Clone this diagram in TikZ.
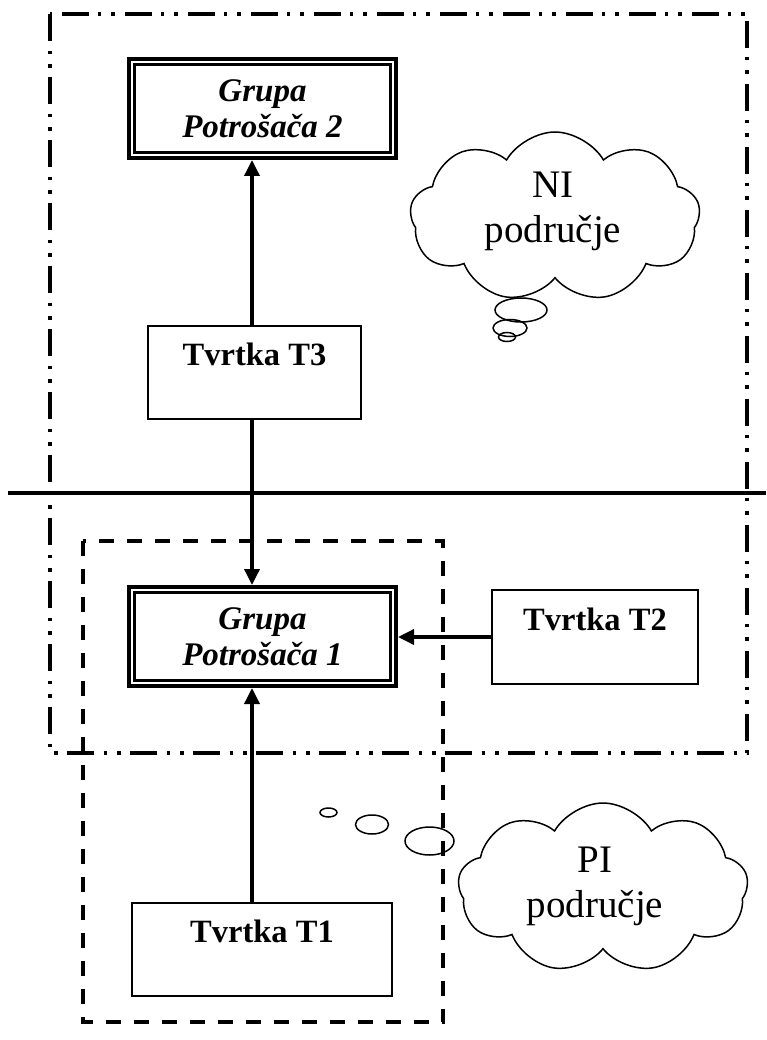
\documentclass[tikz,border=0pt]{standalone}
\usepackage{fontspec}
\setmainfont{Liberation Serif}
\usetikzlibrary{arrows.meta,shapes.symbols,shapes.geometric}
\begin{document}
\begin{tikzpicture}[x=1pt,y=-1pt,
  gbox/.style={draw, line width=4pt, minimum width=267pt, minimum height=99pt, inner sep=0pt, align=center, font=\bfseries\itshape\fontsize{33}{35.5}\selectfont},
  innerline/.style={line width=2.5pt},
  tbox/.style={draw, line width=1.8pt, inner sep=0pt, text height=22pt, text depth=36pt, font=\bfseries\fontsize{32.5}{36}\selectfont},
  arr/.style={line width=3.5pt, -{Triangle[length=16pt,width=15pt]}},
  cloudshape/.style={draw, cloud, cloud puffs=9, cloud puff arc=120, aspect=1.7, line width=1.5pt, minimum width=290pt, minimum height=170pt, inner sep=0pt},
  cloudtext/.style={align=center, font=\fontsize{39}{45}\selectfont},
  bubble/.style={draw, ellipse, line width=1.5pt, inner sep=0pt},
  dashdot/.style={line width=4pt, dash pattern=on 27pt off 10pt on 3.5pt off 10pt on 3.5pt off 9pt},
  dashedline/.style={line width=4pt, dash pattern=on 15pt off 13pt}
]
\useasboundingbox (0,0) rectangle (766,1040);

% regions
\draw[dashdot] (50.3,13.7) rectangle (747.3,753.3);
\draw[dashedline] (82.5,541) rectangle (443,1022);
\draw[line width=4pt] (8,493) -- (766,493);

% consumer groups
\node[gbox] (gp2) at (262.5,108.5) {Grupa\\Potrošača 2};
\draw[innerline] ([shift={(7.5,7.5)}]gp2.north west) rectangle ([shift={(-7.5,-7.5)}]gp2.south east);
\node[gbox] (gp1) at (262.5,636.5) {Grupa\\Potrošača 1};
\draw[innerline] ([shift={(7.5,7.5)}]gp1.north west) rectangle ([shift={(-7.5,-7.5)}]gp1.south east);

% companies
\node[tbox, minimum width=213pt, minimum height=93pt] (t3) at (254.5,372.5) {Tvrtka T3};
\node[tbox, minimum width=206pt, minimum height=94pt] (t2) at (595,637) {Tvrtka T2};
\node[tbox, minimum width=260pt, minimum height=93pt] (t1) at (262,949.5) {Tvrtka T1};

% arrows
\coordinate (ax) at (252,0);
\draw[arr] (t3.north -| ax) -- (gp2.south -| ax);
\draw[arr] (t3.south -| ax) -- (gp1.north -| ax);
\draw[arr] (t1.north -| ax) -- (gp1.south -| ax);
\draw[arr] (t2.west) -- (t2.west -| gp1.east);

% clouds
\node[cloudshape] (c1) at (555,217) {};
\node[cloudtext] (c1t) at (553,211) {NI\\područje};
\node[bubble, minimum width=52pt, minimum height=24pt] (b11) at (521,310) {};
\node[bubble, minimum width=34pt, minimum height=17pt] (b12) at (510,328) {};
\node[bubble, minimum width=17pt, minimum height=9pt] (b13) at (507,337) {};

\node[cloudshape] (c2) at (603,888) {};
\node[cloudtext] (c2t) at (595,886) {PI\\područje};
\node[bubble, minimum width=49pt, minimum height=28pt] (b21) at (429.5,841) {};
\node[bubble, minimum width=33pt, minimum height=19pt] (b22) at (372,824.5) {};
\node[bubble, minimum width=17pt, minimum height=9pt] (b23) at (328.5,812.5) {};
\end{tikzpicture}
\end{document}
